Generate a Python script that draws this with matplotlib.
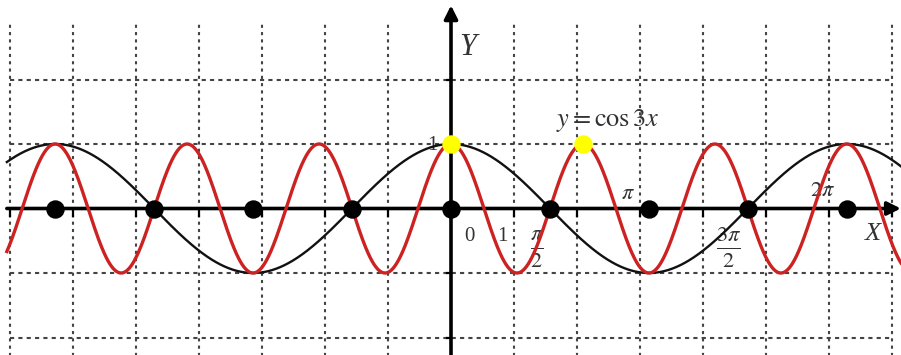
import numpy as np
import matplotlib
matplotlib.use('Agg')
import matplotlib.pyplot as plt

plt.rcParams['mathtext.fontset'] = 'stix'
plt.rcParams['font.family'] = 'Liberation Serif'

# curves shown: y = cos(k*x)
freqs = [1, 3]
curve_colors = ['#111111', '#cc2222']
curve_widths = [1.7, 2.4]

# black points on the x axis: multiples of pi/2
zero_k = [-4, -3, -2, -1, 0, 1, 2, 3, 4]
# yellow points: maxima of cos3x
peak_x = [0, 2 * np.pi / 3]
peak_y = [1, 1]

grid_x = list(range(-7, 8))
grid_y = [-2, -1, 1, 2]

fig = plt.figure(figsize=(9.01, 3.55), dpi=100)
ax = fig.add_axes([0, 0, 1, 1])
ax.set_xlim(-451 / 63, (901 - 451) / 63)
ax.set_ylim(-(355 - 208.5) / 64.5, 208.5 / 64.5)
ax.axis('off')

# dashed grid
for gx in grid_x:
    if gx != 0:
        ax.plot([gx, gx], [-2.4, 2.89], color='#444444', lw=1.5,
                linestyle=(0, (1.5, 2.0)), zorder=1)
for gy in grid_y:
    ax.plot([-7, 7], [gy, gy], color='#444444', lw=1.5,
            linestyle=(0, (2.0, 2.0)), zorder=1)

# axes with arrows
ax.annotate('', xy=(7.14, 0), xytext=(-7.05, 0),
            arrowprops=dict(arrowstyle='-|>', color='black', lw=2.6,
                            mutation_scale=20, shrinkA=0, shrinkB=0), zorder=3)
ax.annotate('', xy=(0, 3.15), xytext=(0, -2.4),
            arrowprops=dict(arrowstyle='-|>', color='black', lw=2.6,
                            mutation_scale=20, shrinkA=0, shrinkB=0), zorder=3)

# small ticks
for gx in grid_x:
    if gx != 0:
        ax.plot([gx, gx], [0, -0.11], color='black', lw=1.6, zorder=3)
for gy in [-2, -1, 1, 2]:
    ax.plot([-0.07, 0], [gy, gy], color='black', lw=1.6, zorder=3)

x = np.linspace(-7.05, 7.2, 1500)
for k, c, w in zip(freqs, curve_colors, curve_widths):
    ax.plot(x, np.cos(k * x), color=c, lw=w, zorder=4)

ax.scatter(np.array(zero_k) * np.pi / 2, np.zeros(len(zero_k)), s=150,
           color='black', zorder=5)
ax.scatter(peak_x, peak_y, s=150, color='#ffff00', zorder=6)

# labels
ax.text(0.27, 2.50, 'Y', fontsize=22, style='italic', ha='center',
        va='center', color='#333333')
ax.text(6.70, -0.40, 'X', fontsize=19, style='italic', ha='center',
        va='center', color='#333333')
ax.text(0.30, -0.44, '0', fontsize=15, ha='center', va='center', color='#333333')
ax.text(0.81, -0.44, '1', fontsize=15, ha='center', va='center', color='#333333')
ax.text(-0.30, 0.97, '1', fontsize=15, ha='center', va='center', color='#333333')
ax.text(1.37, -0.64, r'$\frac{\pi}{2}$', fontsize=23, ha='center',
        va='center', color='#333333')
ax.text(2.81, 0.22, r'$\pi$', fontsize=16, ha='center', va='center',
        color='#333333')
ax.text(4.40, -0.60, r'$\frac{3\pi}{2}$', fontsize=23, ha='center',
        va='center', color='#333333')
ax.text(5.90, 0.26, r'$2\pi$', fontsize=16, ha='center', va='center',
        color='#333333')
ax.text(2.48, 1.37, r'$y = \cos 3x$', fontsize=19, ha='center',
        va='center', color='#333333')

fig.savefig('out.png', dpi=100)
